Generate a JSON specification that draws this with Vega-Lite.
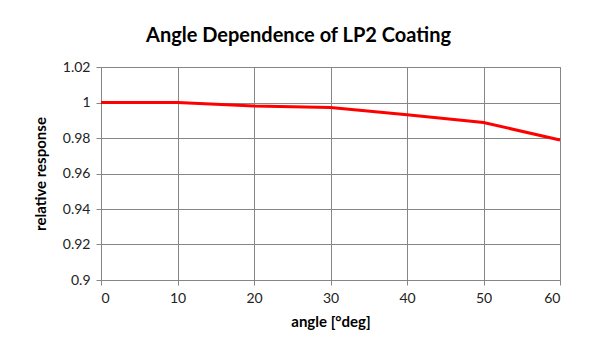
{
  "$schema": "https://vega.github.io/schema/vega-lite/v6.json",
  "width": 459,
  "height": 213,
  "autosize": "none",
  "padding": {"left": 101, "top": 67, "right": 34, "bottom": 79},
  "background": "white",
  "title": {
    "text": "Angle Dependence of LP2 Coating",
    "font": "Lato",
    "fontSize": 20,
    "fontWeight": "bold",
    "color": "#000000",
    "anchor": "middle",
    "dx": -32,
    "offset": 14
  },
  "data": {
    "values": [
      {"angle": 0, "response": 1.0},
      {"angle": 10, "response": 1.0},
      {"angle": 20, "response": 0.998},
      {"angle": 30, "response": 0.9972},
      {"angle": 40, "response": 0.9931},
      {"angle": 50, "response": 0.9887},
      {"angle": 60, "response": 0.9789}
    ]
  },
  "mark": {"type": "line", "color": "#ff0000", "strokeWidth": 3},
  "encoding": {
    "x": {
      "field": "angle",
      "type": "quantitative",
      "scale": {"domain": [0, 60], "nice": false},
      "axis": {"values": [0, 10, 20, 30, 40, 50, 60], "title": "angle [°deg]", "titlePadding": 9}
    },
    "y": {
      "field": "response",
      "type": "quantitative",
      "scale": {"domain": [0.9, 1.02], "nice": false, "zero": false},
      "axis": {
        "values": [0.9, 0.92, 0.94, 0.96, 0.98, 1.0, 1.02],
        "labelExpr": "format(datum.value, '.2~f')",
        "title": "relative response",
        "titlePadding": 14
      }
    }
  },
  "config": {
    "view": {"stroke": "#868686", "strokeWidth": 1},
    "axis": {
      "gridColor": "#868686",
      "gridWidth": 1,
      "gridOpacity": 1,
      "domainColor": "#868686",
      "tickColor": "#868686",
      "tickSize": 5,
      "labelFont": "Lato",
      "labelFontSize": 14,
      "labelColor": "#222222",
      "labelPadding": 6,
      "titleFont": "Lato",
      "titleFontSize": 15,
      "titleFontWeight": "bold",
      "titleColor": "#000000"
    }
  }
}
